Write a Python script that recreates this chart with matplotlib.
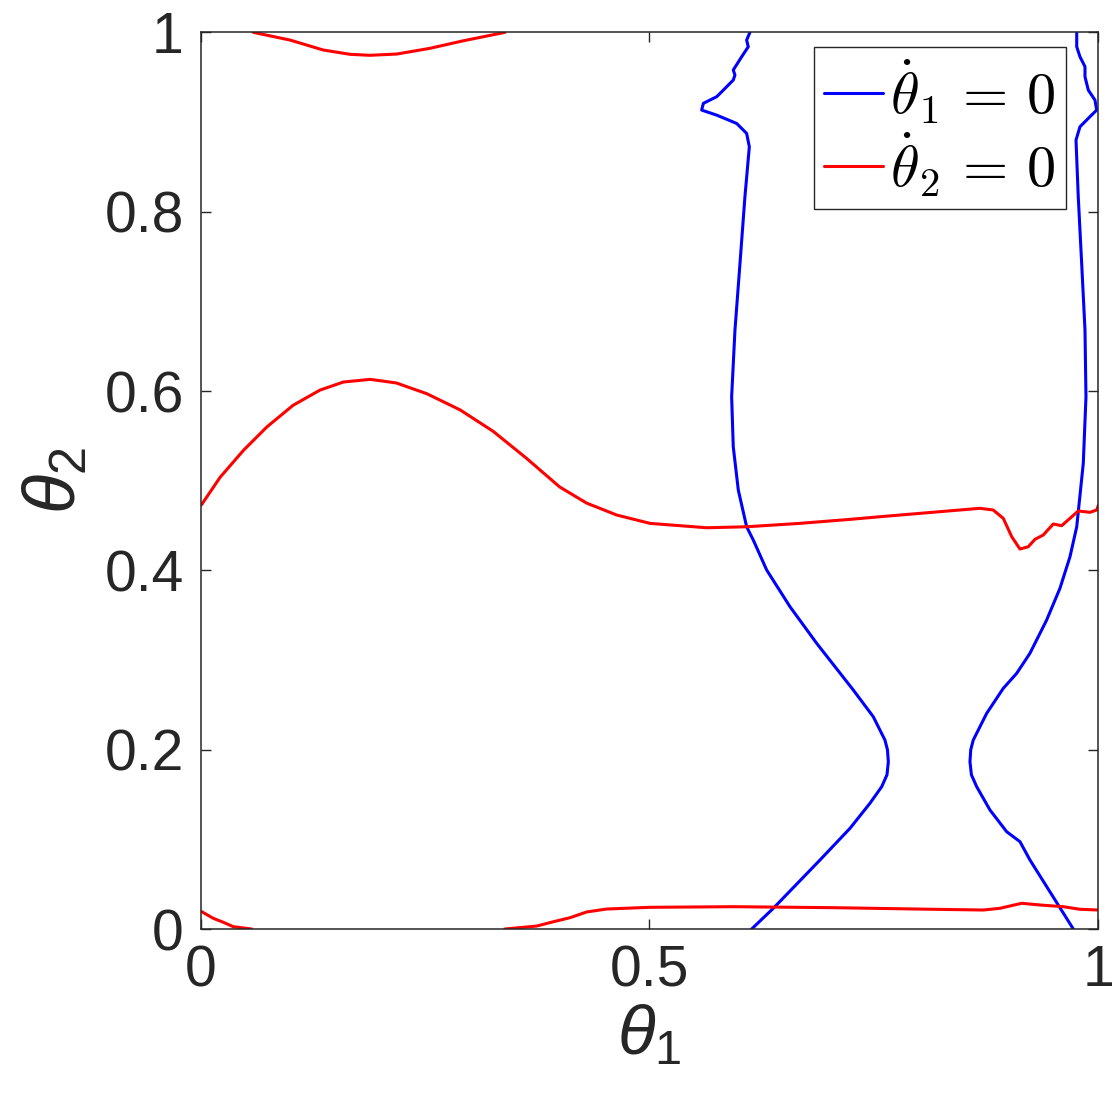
import matplotlib
matplotlib.use("Agg")
import matplotlib.pyplot as plt
from matplotlib.font_manager import FontProperties

plt.rcParams['mathtext.fontset'] = 'custom'
plt.rcParams['mathtext.rm'] = 'Liberation Sans'
plt.rcParams['mathtext.it'] = 'Liberation Sans:italic'
plt.rcParams['mathtext.bf'] = 'Liberation Sans:bold'

# ---- data ----
# theta2_dot = 0 : middle branch
red_mid_x = [0.001, 0.022, 0.048, 0.074, 0.103, 0.133, 0.159, 0.189, 0.218, 0.252,
             0.289, 0.326, 0.363, 0.400, 0.430, 0.4635, 0.5006, 0.5637, 0.608, 0.6676,
             0.7238, 0.7567, 0.868, 0.8828, 0.894, 0.9034, 0.9126, 0.9218, 0.9293, 0.9385,
             0.9497, 0.959, 0.9683, 0.9775, 0.9905, 0.998, 1.0]
red_mid_y = [0.473, 0.504, 0.534, 0.560, 0.584, 0.601, 0.610, 0.613, 0.609, 0.597,
             0.579, 0.555, 0.525, 0.493, 0.475, 0.4617, 0.4524, 0.4475, 0.4486, 0.4524,
             0.4569, 0.4598, 0.4692, 0.4673, 0.458, 0.4375, 0.4238, 0.4263, 0.4346, 0.4394,
             0.4517, 0.4498, 0.458, 0.4662, 0.4647, 0.4673, 0.4728]
# theta2_dot = 0 : top branch
red_top_x = [0.0588, 0.0997, 0.1367, 0.1665, 0.1887, 0.2185, 0.2556, 0.2927, 0.3391]
red_top_y = [1.0, 0.9914, 0.9803, 0.9755, 0.9744, 0.9758, 0.9822, 0.9906, 1.0]
# theta2_dot = 0 : bottom-left branch
red_bl_x = [0.0, 0.0143, 0.0254, 0.0365, 0.057]
red_bl_y = [0.0201, 0.0119, 0.0075, 0.0026, 0.0]
# theta2_dot = 0 : bottom branch
red_bot_x = [0.339, 0.3744, 0.3929, 0.4115, 0.43, 0.4523, 0.5006, 0.5933, 0.7047, 0.816,
             0.8717, 0.8903, 0.9145, 0.9349, 0.9608, 0.9794, 1.0]
red_bot_y = [0.0, 0.0033, 0.0081, 0.0126, 0.019, 0.0223, 0.0242, 0.0249, 0.0238, 0.022,
             0.0212, 0.0231, 0.0287, 0.0268, 0.0249, 0.022, 0.0212]

# theta1_dot = 0 : left branch
blue_l_x = [0.6138, 0.6379, 0.6899, 0.7233, 0.7455, 0.7586, 0.7645, 0.766, 0.765, 0.7622,
            0.7492, 0.727, 0.6862, 0.6565, 0.6305, 0.6156, 0.6082, 0.5989, 0.5933, 0.5915,
            0.5952, 0.6008, 0.6063, 0.6112, 0.6082, 0.5971, 0.5748, 0.5581, 0.56, 0.5748,
            0.5804, 0.5933, 0.5952, 0.5933, 0.6027, 0.61, 0.6082, 0.6119]
blue_l_y = [0.0, 0.0231, 0.077, 0.1123, 0.1402, 0.1587, 0.172, 0.1866, 0.200, 0.2108,
            0.2368, 0.2665, 0.3186, 0.3594, 0.4004, 0.4338, 0.4486, 0.4896, 0.5379, 0.5936,
            0.668, 0.7424, 0.8167, 0.8724, 0.8873, 0.8984, 0.9077, 0.9133, 0.9208, 0.9282,
            0.9337, 0.9468, 0.9524, 0.958, 0.9728, 0.9839, 0.9914, 1.0]
# theta1_dot = 0 : right branch
blue_r_x = [0.972, 0.9237, 0.9126, 0.8978, 0.8792, 0.8644, 0.8585, 0.8569, 0.8578, 0.8606,
            0.8755, 0.894, 0.9089, 0.9237, 0.9423, 0.9571, 0.9683, 0.9758, 0.9831, 0.9861,
            0.985, 0.9813, 0.9775, 0.975, 0.9794, 0.9887, 0.998, 0.9961, 0.9887, 0.985,
            0.985, 0.9794, 0.9758, 0.9758]
blue_r_y = [0.0, 0.077, 0.0974, 0.1085, 0.1327, 0.1587, 0.172, 0.1866, 0.200, 0.2108,
            0.2405, 0.2684, 0.2851, 0.3075, 0.3446, 0.3799, 0.4152, 0.4486, 0.5193, 0.5936,
            0.668, 0.7424, 0.8167, 0.8799, 0.8947, 0.9041, 0.9133, 0.9245, 0.9356, 0.9505,
            0.9617, 0.9728, 0.9839, 1.0]

xticks = [0, 0.5, 1]
xticklabels = ['0', '0.5', '1']
yticks = [0, 0.2, 0.4, 0.6, 0.8, 1]
yticklabels = ['0', '0.2', '0.4', '0.6', '0.8', '1']
legend_labels = [r'$\dot{\theta}_1\,=\,0$', r'$\dot{\theta}_2\,=\,0$']

# ---- figure ----
fig = plt.figure(figsize=(11.17, 11.04), dpi=100)
ax = fig.add_axes([0.1795, 0.1585, 0.8039, 0.8122])

lw = 2.2
style = dict(lw=lw, solid_joinstyle='round', solid_capstyle='round')
l1, = ax.plot(blue_l_x, blue_l_y, color='#0000ff', **style)
ax.plot(blue_r_x, blue_r_y, color='#0000ff', **style)
l2, = ax.plot(red_mid_x, red_mid_y, color='#ff0000', **style)
ax.plot(red_top_x, red_top_y, color='#ff0000', **style)
ax.plot(red_bl_x, red_bl_y, color='#ff0000', **style)
ax.plot(red_bot_x, red_bot_y, color='#ff0000', **style)

ax.set_xlim(0, 1)
ax.set_ylim(0, 1)
ax.set_xticks(xticks)
ax.set_xticklabels(xticklabels)
ax.set_yticks(yticks)
ax.set_yticklabels(yticklabels)

axcol = '#262626'
for s in ax.spines.values():
    s.set_color(axcol)
    s.set_linewidth(1.1)
ax.tick_params(direction='in', length=7, width=1.0, colors=axcol,
               top=True, right=True, labelsize=41, labelcolor=axcol)
ax.tick_params(axis='x', pad=11)
ax.tick_params(axis='y', pad=12)
for lab in ax.get_xticklabels() + ax.get_yticklabels():
    lab.set_fontfamily('Liberation Sans')

ax.set_xlabel(r'$\theta_1$', fontsize=50, color=axcol, labelpad=2)
ax.set_ylabel(r'$\theta_2$', fontsize=52, color=axcol, labelpad=10)

leg_prop = FontProperties(size=42, math_fontfamily='cm')
leg = ax.legend([l1, l2], legend_labels, prop=leg_prop, loc='upper right',
                bbox_to_anchor=(0.9638, 0.9836), borderaxespad=0.0,
                handlelength=1.0, handletextpad=0.12, borderpad=0.18,
                labelspacing=0.08, frameon=True, fancybox=False, framealpha=1.0)
leg.get_frame().set_edgecolor('#262626')
leg.get_frame().set_linewidth(1.0)
for h in leg.get_lines():
    h.set_linewidth(lw)

fig.savefig('out.png', dpi=100)
